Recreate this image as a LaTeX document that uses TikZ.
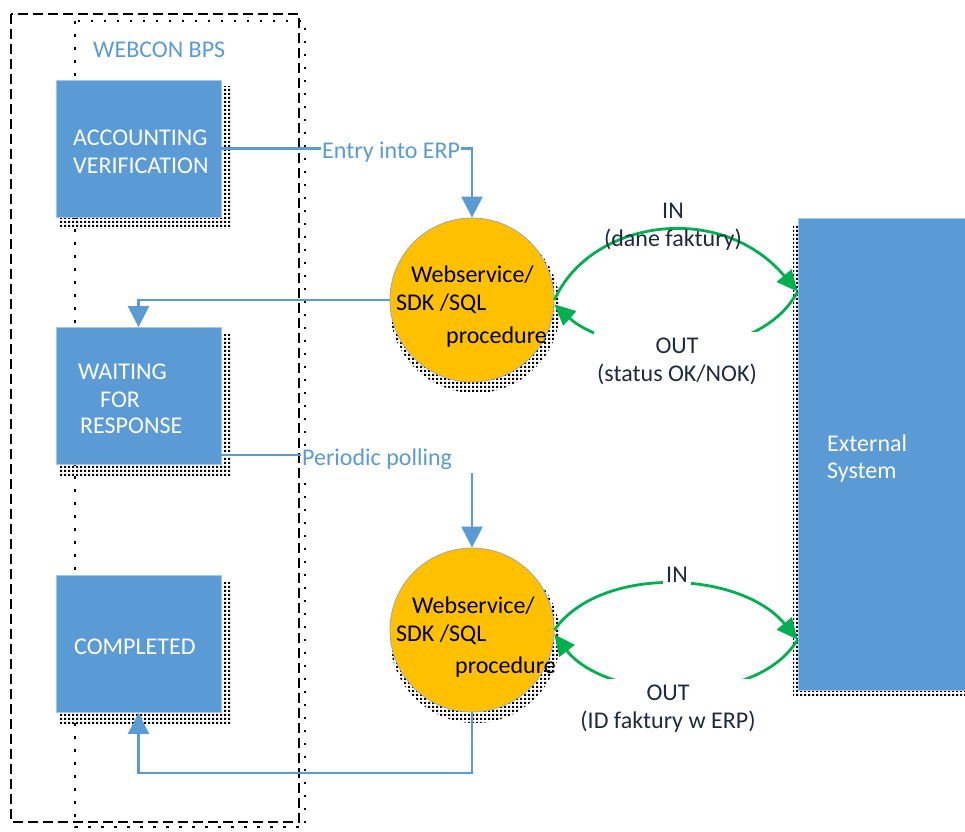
\documentclass[tikz,border=0pt]{standalone}
\usepackage{fontspec}
\setmainfont{Carlito}
\usetikzlibrary{arrows.meta,patterns.meta,calc}
\definecolor{bpsblue}{HTML}{5B9BD5}
\definecolor{boxedge}{HTML}{A9C4E4}
\definecolor{gold}{HTML}{FFC000}
\definecolor{grn}{HTML}{00B050}
\definecolor{navy}{HTML}{1E2B3C}
\tikzdeclarepattern{name=dither, type=uncolored,
  bounding box={(0pt,0pt) and (4pt,4pt)}, tile size={(4pt,4pt)},
  code={\fill (0pt,0pt) rectangle (2.6pt,2.6pt);}}
\begin{document}
\begin{tikzpicture}[x=1pt,y=-1pt, font=\fontsize{24}{28}\selectfont,
  stbox/.style={draw=boxedge, line width=0.8pt, fill=bpsblue, minimum width=165pt, minimum height=137pt, inner sep=0pt},
  wtxt/.style={text=white, inner sep=0pt, anchor=base west},
  btxt/.style={text=black, inner sep=0pt, anchor=base west},
  ltxt/.style={text=bpsblue, inner sep=0pt, anchor=base west},
  ntxt/.style={text=navy, align=center, inner sep=2pt},
  proc/.style={circle, draw=gray!70, line width=0.8pt, fill=gold, minimum size=164pt, inner sep=0pt},
  shd/.style={pattern=dither, pattern color=black},
  conn/.style={draw=bpsblue, line width=2.2pt, -{Triangle[length=21pt,width=21pt]}},
  gconn/.style={draw=grn, line width=2.8pt, -{Triangle[length=21pt,width=19pt]}},
]
\useasboundingbox (0,0) rectangle (965,831);
% frames
\draw[line width=1.8pt, dash pattern=on 10pt off 5pt] (11,14) rectangle (299,822);
\draw[line width=2.5pt, dash pattern=on 2.5pt off 10.5pt] (75,21) rectangle (305,827);
% shadows
\fill[shd] (60,86) rectangle (231,228);
\fill[shd] (60,334) rectangle (231,476);
\fill[shd] (60,582) rectangle (231,724);
\fill[shd] (475,308) circle[radius=85];
\fill[shd] (475,638) circle[radius=85];
\fill[shd] (793,224) rectangle (970,696);
% shapes
\node[stbox] (b1) at (138.5,148.5) {};
\node[stbox] (b2) at (138.5,396) {};
\node[stbox] (b3) at (138.5,644) {};
\node[proc] (c1) at (472,300) {};
\node[proc] (c2) at (472,630) {};
\node[stbox, minimum width=170pt, minimum height=472pt] (ext) at (883,454) {};
% texts
\node[ltxt] (webcon) at (93,57) {WEBCON BPS};
\node[wtxt] (t1a) at (73,145) {ACCOUNTING};
\node[wtxt] (t1b) at (73,173) {VERIFICATION};
\node[wtxt] (t2a) at (78,379) {WAITING};
\node[wtxt] (t2b) at (100,407) {FOR};
\node[wtxt] (t2c) at (80,433) {RESPONSE};
\node[wtxt] (t3) at (74,654) {COMPLETED};
\node[wtxt] (t4a) at (827,451) {External};
\node[wtxt] (t4b) at (827,478) {System};
\node[btxt] (p1a) at (411,282) {Webservice/};
\node[btxt] (p1b) at (396,310) {SDK /SQL};
\node[btxt] (p1c) at (446,343) {procedure};
\node[btxt] (p2a) at (412,613) {Webservice/};
\node[btxt] (p2b) at (396,641) {SDK /SQL};
\node[btxt] (p2c) at (455,673) {procedure};
% blue connectors
\draw[conn] (b1.east) -| (c1.north);
\node[ltxt, fill=white, inner sep=1pt] (entry) at (321,158) {Entry into ERP};
\draw[conn] (c1.west) -| (b2.north);
\coordinate (b2out) at ($(b2.south east)+(0,-10)$);
\draw[conn] (b2out) -| (c2.north);
\node[ltxt, fill=white, inner sep=1pt, text depth=7pt] (poll) at (301,465) {Periodic polling\hspace*{24pt}};
\coordinate (cbend) at ($(b3.south)+(0,60)$);
\draw[conn] (c2.south) |- (cbend) -- (b3.south);
% green connectors
\coordinate (e1) at ($(ext.north west)+(0,74)$);
\coordinate (e2) at ($(ext.north west)+(0,422)$);
\draw[gconn] (c1.east) .. controls (590,220) and (720,200) .. (e1);
\draw[gconn] (e1) .. controls (755,370) and (610,355) .. (c1.-3);
\node[ntxt] (in1) at (673,227) {IN\\(dane faktury)};
\node[ntxt, fill=white, inner xsep=3pt, inner ysep=6pt] (out1) at (677,361) {OUT\\(status OK/NOK)};
\draw[gconn] (c2.east) .. controls (600,565) and (740,570) .. (e2);
\draw[gconn] (e2) .. controls (755,710) and (605,700) .. (c2.-3);
\node[ntxt, fill=white, inner sep=3pt, anchor=base] (in2) at (677,582) {IN};
\node[ntxt, fill=white, inner xsep=3pt, inner ysep=6pt] (out2) at (668,709) {OUT\\(ID faktury w ERP)};
\end{tikzpicture}
\end{document}
